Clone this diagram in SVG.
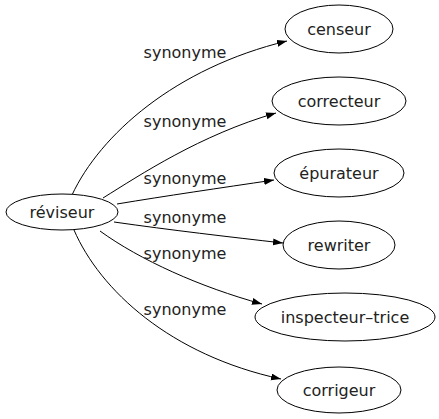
<svg xmlns="http://www.w3.org/2000/svg" width="439" height="419" viewBox="0 0 439 419">
<style>
.node ellipse{fill:#fff;stroke:#000;stroke-width:1}
text{font-family:"DejaVu Sans",sans-serif;font-size:16px;fill:#222;text-anchor:middle}
.edge path{fill:none;stroke:#000;stroke-width:1;marker-end:url(#arr)}
</style>
<defs>
<marker id="arr" markerUnits="userSpaceOnUse" markerWidth="11" markerHeight="8" refX="10" refY="3.5" orient="auto">
<path d="M0,0 L10,3.5 L0,7 z" fill="#000"/>
</marker>
</defs>
<rect width="439" height="419" fill="#fff"/>
<g id="edges" class="edge">
<path d="M72,195 C100,135 175,68 287,41"/>
<path d="M103,198 C140,175 200,135 276,113"/>
<path d="M117,204 C165,196 220,188 274,180"/>
<path d="M114,222 C170,230 230,237 283,243"/>
<path d="M100,231 C140,260 200,287 262,304"/>
<path d="M74,230 C100,290 170,355 281,379"/>
</g>
<g id="labels">
<text x="185" y="58">synonyme</text>
<text x="185" y="127">synonyme</text>
<text x="185" y="184">synonyme</text>
<text x="185" y="223">synonyme</text>
<text x="185" y="259">synonyme</text>
<text x="185" y="315">synonyme</text>
</g>
<g id="reviseur" class="node"><ellipse cx="62" cy="212" rx="56" ry="18"/><text x="62" y="218">réviseur</text></g>
<g id="censeur" class="node"><ellipse cx="339" cy="29" rx="54" ry="24"/><text x="339" y="35">censeur</text></g>
<g id="correcteur" class="node"><ellipse cx="339" cy="101" rx="67" ry="24"/><text x="339" y="107">correcteur</text></g>
<g id="epurateur" class="node"><ellipse cx="339" cy="173" rx="65" ry="24"/><text x="339" y="179">épurateur</text></g>
<g id="rewriter" class="node"><ellipse cx="339" cy="245" rx="56" ry="24"/><text x="339" y="251">rewriter</text></g>
<g id="inspecteur-trice" class="node"><ellipse cx="345" cy="317" rx="90" ry="24"/><text x="345" y="323">inspecteur–trice</text></g>
<g id="corrigeur" class="node"><ellipse cx="339" cy="390" rx="62" ry="23"/><text x="339" y="396">corrigeur</text></g>
</svg>
